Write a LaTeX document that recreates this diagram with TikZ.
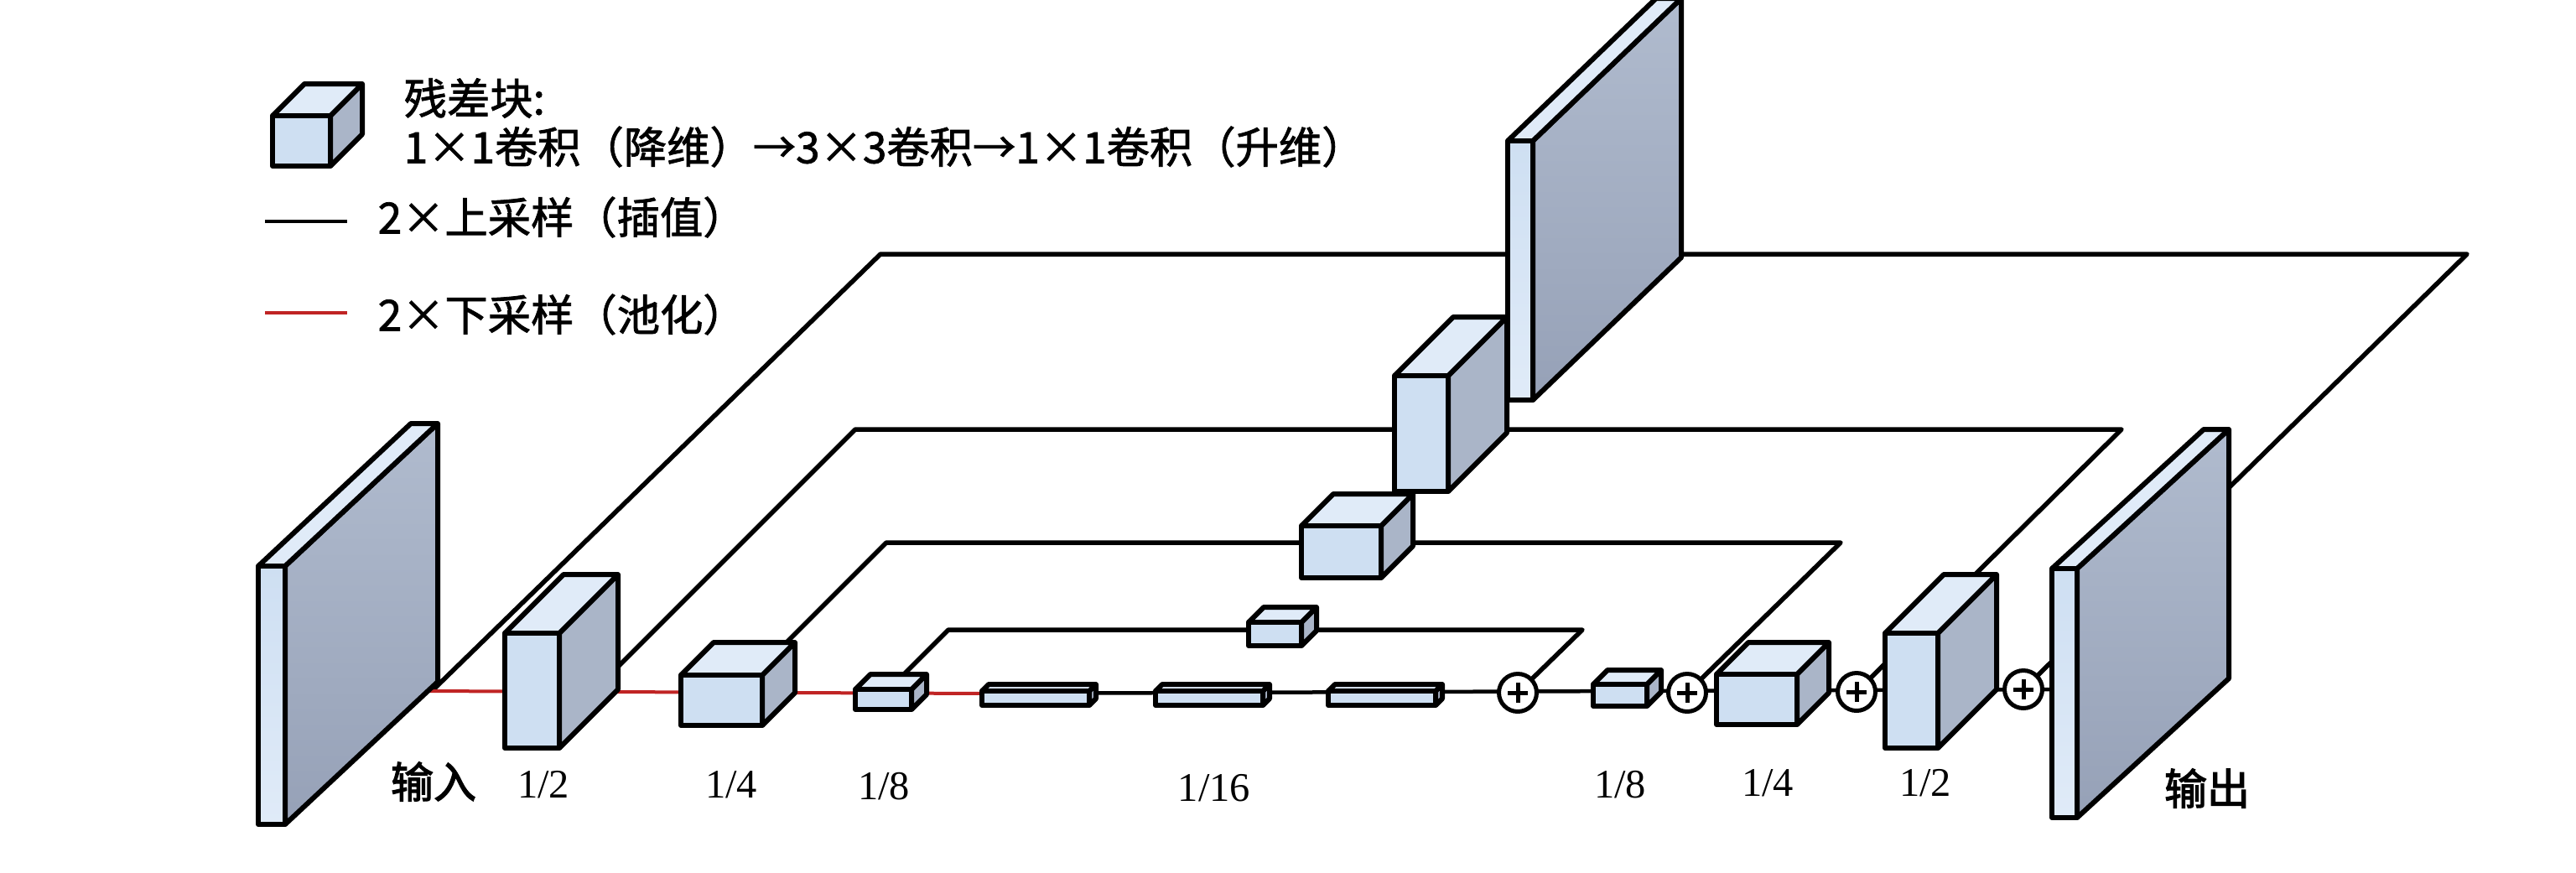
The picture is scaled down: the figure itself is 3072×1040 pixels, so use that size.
\documentclass[tikz,border=0pt]{standalone}
\usepackage{fontspec}
\setmainfont{Liberation Serif}
\newfontfamily\cjk[FakeBold=1.6]{Noto Sans CJK SC}
\newfontfamily\cjkbf[FakeBold=2.5]{Noto Sans CJK SC}
\usepackage{xcolor}
\usetikzlibrary{calc}
\definecolor{facefront}{RGB}{206,223,242}
\definecolor{facetop}{RGB}{224,235,248}
\definecolor{faceside}{RGB}{170,181,200}
\definecolor{slabhi}{RGB}{176,187,206}
\definecolor{slablo}{RGB}{150,161,183}
\definecolor{poolred}{RGB}{192,36,36}

\tikzset{
  blkline/.style={line width=0.6mm,line join=round},
  skipline/.style={draw=black,line width=0.55mm,line join=round},
  poolline/.style={draw=poolred,line width=0.4mm},
  upline/.style={draw=black,line width=0.45mm},
  addnode/.style={circle,draw,fill=white,line width=0.5mm,minimum size=4.5mm,inner sep=0pt,
    path picture={\draw[line width=0.5mm]
      ([xshift=-1.2mm]path picture bounding box.center) -- ([xshift=1.2mm]path picture bounding box.center)
      ([yshift=-1.2mm]path picture bounding box.center) -- ([yshift=1.2mm]path picture bounding box.center);}},
  fraclbl/.style={font=\fontsize{13.8pt}{15pt}\selectfont,inner sep=0pt},
  iolbl/.style={font=\cjkbf\fontsize{14.5pt}{16pt}\selectfont,inner sep=0pt},
  legtext/.style={font=\cjk\fontsize{14.6pt}{16pt}\selectfont,inner sep=0pt,anchor=west},
}

% residual block: name, left x, line y, width, height, depth
\newcommand{\resblk}[6]{%
  \coordinate (#1) at (#2,{#3+#6});
  \draw[blkline,fill=faceside] ($(#1)+(#4,0)$) -- ++(#6,-#6) -- ++(0,-#5) -- ($(#1)+(#4,-#5)$) -- cycle;
  \draw[blkline,fill=facetop] ($(#1)+(0,-#5)$) -- ++(#6,-#6) -- ++(#4,0) -- ($(#1)+(#4,-#5)$) -- cycle;
  \draw[blkline,fill=facefront] (#1) rectangle ++(#4,-#5);
}
% feature map slab: name, left x, bottom y, width, height, dx, dy
\newcommand{\featslab}[7]{%
  \coordinate (#1) at (#2,#3);
  \draw[blkline,top color=slabhi,bottom color=slablo] ($(#1)+(#4,0)$) -- ++(#6,#7) -- ++(0,-#5) -- ($(#1)+(#4,-#5)$) -- cycle;
  \draw[blkline,fill=facetop] ($(#1)+(0,-#5)$) -- ++(#6,#7) -- ++(#4,0) -- ($(#1)+(#4,-#5)$) -- cycle;
  \draw[blkline,top color=facefront,bottom color=facetop] (#1) rectangle ++(#4,-#5);
}

\begin{document}
\begin{tikzpicture}[x=0.1mm,y=-0.1mm]
  \useasboundingbox[fill=white] (0,0) rectangle (3072,1040);

  % centres of the additions
  \coordinate (q1) at (1810,826);
  \coordinate (q2) at (2012,826);
  \coordinate (q3) at (2214,825);
  \coordinate (q4) at (2413,822);

  % skip paths
  \coordinate (k1o) at (1056,826); \coordinate (k1a) at (1131,751); \coordinate (k1b) at (1887,751);
  \coordinate (k2o) at (878,826);  \coordinate (k2a) at (1057,647); \coordinate (k2b) at (2195,647);
  \coordinate (k3o) at (706,826);  \coordinate (k3a) at (1020,512); \coordinate (k3b) at (2530,512);
  \coordinate (k4o) at (515,824);  \coordinate (k4a) at (1050,303); \coordinate (k4b) at (2942,303);
  \draw[skipline] (k1o) -- (k1a) -- (k1b) -- (q1);
  \draw[skipline] (k2o) -- (k2a) -- (k2b) -- (q2);
  \draw[skipline] (k3o) -- (k3a) -- (k3b) -- (q3);
  \draw[skipline] (k4o) -- (k4a) -- (k4b) -- (q4);

  % main path
  \coordinate (m0) at (510,824);
  \coordinate (m1) at (1175,827);
  \coordinate (m2) at (2452,822);
  \draw[poolline] (m0) -- (m1);
  \draw[upline] (m1) -- (m2);

  % legend
  \resblk{legblk}{325}{160}{69}{60}{38}
  \coordinate (lu0) at (316,264); \coordinate (lu1) at (414,264);
  \coordinate (ld0) at (316,373); \coordinate (ld1) at (414,373);
  \draw[upline] (lu0) -- (lu1);
  \draw[poolline] (ld0) -- (ld1);
  \node[legtext] (legtitle) at (481,117) {残差块:};
  \node[legtext] (legdesc) at (481,175) {1×1卷积（降维）→3×3卷积→1×1卷积（升维）};
  \node[legtext] (legup) at (450,259) {2×上采样（插值）};
  \node[legtext] (legdown) at (450,375) {2×下采样（池化）};

  % encoder
  \featslab{fin}{308}{983}{32}{308}{182}{-170}
  \resblk{e2}{602}{822}{65}{137}{70}
  \resblk{e4}{812}{826}{97}{60}{39}
  \resblk{e8}{1020}{828}{67}{24}{18}
  \resblk{bar1}{1171}{833}{128}{17}{8}
  \resblk{bar2}{1378}{833}{128}{17}{8}
  \resblk{bar3}{1584}{833}{128}{17}{8}

  % middle column
  \resblk{c8}{1489}{752}{63}{28}{18}
  \resblk{c4}{1552}{651}{95}{62}{38}
  \resblk{c2}{1663}{516}{64}{138}{70}
  \featslab{fmid}{1798}{477}{30}{309}{177}{-170}

  % decoder
  \resblk{d8}{1900}{825}{64}{26}{17}
  \resblk{d4}{2047}{826}{96}{60}{38}
  \resblk{d2}{2248}{822}{63}{137}{70}
  \featslab{fout}{2447}{975}{30}{297}{181}{-166}

  \node[addnode] (p1) at (q1) {};
  \node[addnode] (p2) at (q2) {};
  \node[addnode] (p3) at (q3) {};
  \node[addnode] (p4) at (q4) {};

  % scale labels
  \node[iolbl] (lin) at (517,932) {输入};
  \node[fraclbl] (l12a) at (648,936) {1/2};
  \node[fraclbl] (l14a) at (872,936) {1/4};
  \node[fraclbl] (l18a) at (1054,938) {1/8};
  \node[fraclbl] (l116) at (1448,940) {1/16};
  \node[fraclbl] (l18b) at (1932,936) {1/8};
  \node[fraclbl] (l14b) at (2108,934) {1/4};
  \node[fraclbl] (l12b) at (2296,934) {1/2};
  \node[iolbl] (lout) at (2632,940) {输出};
\end{tikzpicture}
\end{document}
